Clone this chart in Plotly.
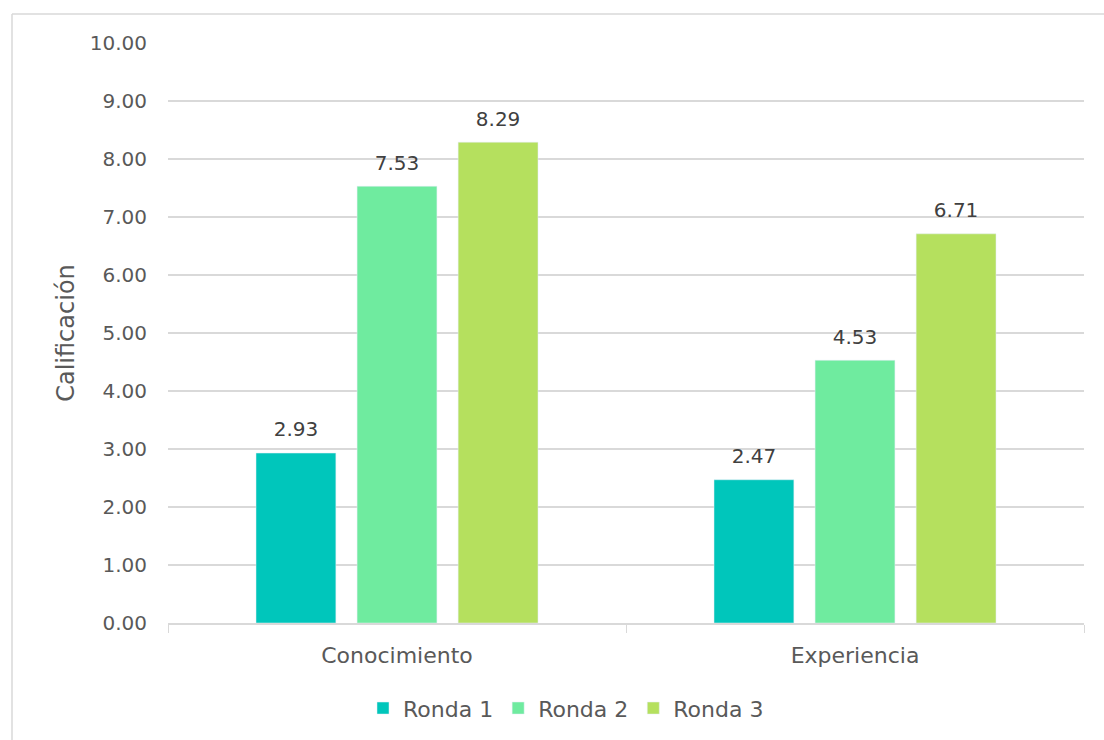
import plotly.graph_objects as go

categories = ["Conocimiento", "Experiencia"]
series_names = ["Ronda 1", "Ronda 2", "Ronda 3"]
ronda1 = [2.93, 2.47]
ronda2 = [7.53, 4.53]
ronda3 = [8.29, 6.71]
colors = ["#00C6BB", "#6FEB9F", "#B5E05E"]
y_ticks = [0, 1, 2, 3, 4, 5, 6, 7, 8, 9, 10]

FONT = "DejaVu Sans"
GRAY = "#595959"
BARGAP = 0.338

fig = go.Figure()
for i, (name, vals, col) in enumerate(zip(series_names, [ronda1, ronda2, ronda3], colors)):
    fig.add_trace(go.Bar(
        x=categories, y=vals, name=name, marker_color=col,
        offsetgroup=str(i), hoverinfo="y",
    ))
for i, (name, vals) in enumerate(zip(series_names, [ronda1, ronda2, ronda3])):
    fig.add_trace(go.Scatter(
        x=categories, y=vals, mode="text+markers", showlegend=False,
        offsetgroup=str(i), hoverinfo="skip",
        marker=dict(size=17, opacity=0),
        text=[f"{v:.2f}" for v in vals], textposition="top center",
        textfont=dict(size=20, color="#404040", family=FONT),
        cliponaxis=False,
    ))

fig.update_layout(
    width=1104, height=740,
    margin=dict(l=168, r=20, t=43, b=116),
    paper_bgcolor="white", plot_bgcolor="white",
    barmode="group", bargap=BARGAP, bargroupgap=0.21,
    scattermode="group", scattergap=BARGAP,
    font=dict(family=FONT, color=GRAY, size=20),
    showlegend=True,
    legend=dict(orientation="h", x=0.4345, xanchor="center", y=-0.145, yanchor="middle",
                font=dict(size=22, color=GRAY), itemwidth=30, traceorder="normal"),
    xaxis=dict(showgrid=False, showline=True, linecolor="#D9D9D9", linewidth=1.5,
               ticks="outside", tickson="boundaries", ticklen=8, tickcolor="#D9D9D9",
               ticklabelstandoff=12,
               tickfont=dict(size=22, color=GRAY)),
    yaxis=dict(range=[0, 10], tickvals=y_ticks, tickformat=".2f",
               showgrid=True, gridcolor="#D9D9D9", gridwidth=1.5,
               zeroline=False, showline=False, ticks="", ticklabelstandoff=20,
               tickfont=dict(size=20, color=GRAY),
               title=dict(text="Calificación", font=dict(size=24, color=GRAY), standoff=8)),
    shapes=[
        dict(type="line", xref="paper", yref="paper", x0=-0.1703, x1=1.05, y0=1.0499, y1=1.0499,
             line=dict(color="#D9D9D9", width=1.5)),
        dict(type="line", xref="paper", yref="paper", x0=-0.1703, x1=-0.1703, y0=1.0499, y1=-0.25,
             line=dict(color="#D9D9D9", width=1.5)),
    ],
)

fig.write_html("out.html")
